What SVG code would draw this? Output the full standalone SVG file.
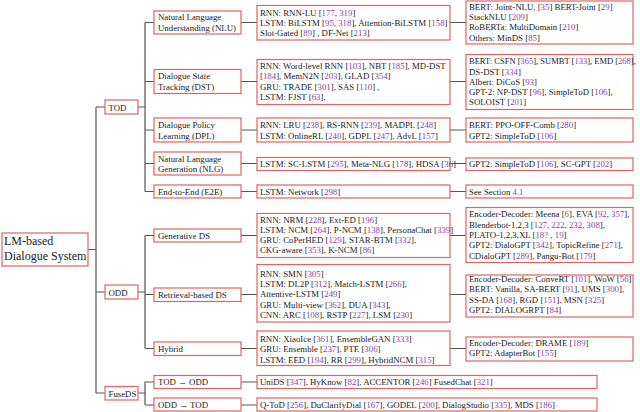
<svg xmlns="http://www.w3.org/2000/svg" width="640" height="412" viewBox="0 0 640 412">
<style>
.b{fill:#fff;stroke:#e06464;stroke-width:1.2}
.t{font-family:"Liberation Serif","DejaVu Serif",serif;font-size:8.8px;fill:#222}
.big{font-size:12px}
.sm{font-size:8.5px}
.c{fill:#8e3f9e}
.ln{stroke:#555;stroke-width:1.2;fill:none}
</style>
<rect width="640" height="412" fill="#fff"/>
<g id="connectors">
<path class="ln" d="M88,249.5H96M96,107V393M96,107H105M96,292H105M96,393H105"/>
<path class="ln" d="M138,107H145M145,22.5V191.5M145,22.5H154M145,81.5H154M145,130H154M145,163.5H154M145,191.5H154"/>
<path class="ln" d="M138,292H145M145,235.5V348.5M145,235.5H154M145,294.5H154M145,348.5H154"/>
<path class="ln" d="M138,393H145M145,382V405M145,382H154M145,405H154"/>
<path class="ln" d="M241,22.5H257M450,22.5H466M241,81.5H257M450,81.5H466M241,130H257M450,130H466M241,163.5H257M450,163.5H466M241,191.5H257M450,191.5H466M241,235.5H257M450,235.5H466M241,294.5H257M450,294.5H466M241,348.5H257M450,348.5H466M241,382H257M241,405H257"/>
</g>
<g id="root"><rect class="b" x="2" y="233" width="86" height="33"/><text class="t big" x="4" y="245">LM-based</text><text class="t big" x="4" y="260">Dialogue System</text></g>
<g id="tod"><rect class="b" x="105" y="100" width="33" height="14"/><text class="t" x="108.5" y="110.5">TOD</text></g>
<g id="odd"><rect class="b" x="105" y="285" width="33" height="14"/><text class="t" x="108.5" y="295.5">ODD</text></g>
<g id="fuseds"><rect class="b" x="105" y="386.5" width="33" height="13.5"/><text class="t" x="108.5" y="396.5">FuseDS</text></g>

<g id="nlu"><rect class="b" x="154" y="11" width="87" height="23"/><text class="t" x="158" y="20">Natural Language</text><text class="t" x="158" y="30.5">Understanding (NLU)</text></g>
<g id="dst"><rect class="b" x="154" y="69.5" width="87" height="24"/><text class="t" x="158" y="79">Dialogue State</text><text class="t" x="158" y="89.5">Tracking (DST)</text></g>
<g id="dpl"><rect class="b" x="154" y="118" width="87" height="24"/><text class="t" x="158" y="128">Dialogue Policy</text><text class="t" x="158" y="138.5">Learning (DPL)</text></g>
<g id="nlg"><rect class="b" x="154" y="152" width="87" height="23"/><text class="t" x="158" y="161.5">Natural Language</text><text class="t" x="158" y="171.5">Generation (NLG)</text></g>
<g id="e2e"><rect class="b" x="154" y="185" width="87" height="13"/><text class="t" x="158" y="194.8">End-to-End (E2E)</text></g>
<g id="gen"><rect class="b" x="154" y="229" width="87" height="13"/><text class="t" x="158" y="238.5">Generative DS</text></g>
<g id="ret"><rect class="b" x="154" y="288" width="87" height="13.5"/><text class="t" x="158" y="297.8">Retrieval-based DS</text></g>
<g id="hyb"><rect class="b" x="154" y="342" width="87" height="13.5"/><text class="t" x="158" y="351.8">Hybrid</text></g>
<g id="tod2odd"><rect class="b" x="154" y="375.5" width="87" height="13"/><text class="t" x="158" y="385">TOD → ODD</text></g>
<g id="odd2tod"><rect class="b" x="154" y="398" width="87" height="13"/><text class="t" x="158" y="407.8">ODD → TOD</text></g>

<g id="nlu-models"><rect class="b" x="257" y="5.5" width="193" height="34.5"/>
<text class="t" x="260" y="15.5">RNN: RNN-LU [<tspan class="c">177</tspan>, <tspan class="c">319</tspan>]</text>
<text class="t" x="260" y="26">LSTM: BiLSTM [<tspan class="c">95</tspan>, <tspan class="c">318</tspan>], Attention-BiLSTM [<tspan class="c">158</tspan>]</text>
<text class="t" x="260" y="36">Slot-Gated [<tspan class="c">89</tspan>] , DF-Net [<tspan class="c">213</tspan>]</text></g>
<g id="nlu-plm"><rect class="b" x="466" y="1" width="167" height="43"/>
<text class="t" x="469" y="9.5">BERT: Joint-NLU, [<tspan class="c">35</tspan>] BERT-Joint [<tspan class="c">29</tspan>]</text>
<text class="t" x="469" y="20">StackNLU [<tspan class="c">209</tspan>]</text>
<text class="t" x="469" y="30">RoBERTa: MultiDomain [<tspan class="c">210</tspan>]</text>
<text class="t" x="469" y="40.5">Others: MinDS [<tspan class="c">85</tspan>]</text></g>

<g id="dst-models"><rect class="b" x="257" y="59.5" width="193" height="45"/>
<text class="t" x="260" y="69">RNN: Word-level RNN [<tspan class="c">103</tspan>], NBT [<tspan class="c">185</tspan>], MD-DST</text>
<text class="t" x="260" y="79.3">[<tspan class="c">184</tspan>], MemN2N [<tspan class="c">203</tspan>], GLAD [<tspan class="c">354</tspan>]</text>
<text class="t" x="260" y="89.5">GRU: TRADE [<tspan class="c">301</tspan>], SAS [<tspan class="c">110</tspan>] ,</text>
<text class="t" x="260" y="100">LSTM: FJST [<tspan class="c">63</tspan>],</text></g>
<g id="dst-plm"><rect class="b" x="466" y="54.5" width="167" height="55"/>
<text class="t sm" x="469" y="64">BERT: CSFN [<tspan class="c">365</tspan>], SUMBT [<tspan class="c">133</tspan>], EMD [<tspan class="c">268</tspan>],</text>
<text class="t" x="469" y="74.5">DS-DST [<tspan class="c">334</tspan>]</text>
<text class="t" x="469" y="84.5">Albert: DiCoS [<tspan class="c">93</tspan>]</text>
<text class="t" x="469" y="94.5">GPT-2: NP-DST [<tspan class="c">96</tspan>], SimpleToD [<tspan class="c">106</tspan>],</text>
<text class="t" x="469" y="104.5">SOLOIST [<tspan class="c">201</tspan>]</text></g>

<g id="dpl-models"><rect class="b" x="257" y="118" width="193" height="24"/>
<text class="t" x="260" y="128">RNN: LRU [<tspan class="c">238</tspan>], RS-RNN [<tspan class="c">239</tspan>], MADPL [<tspan class="c">248</tspan>]</text>
<text class="t" x="260" y="138.5">LSTM: OnlineRL [<tspan class="c">240</tspan>], GDPL [<tspan class="c">247</tspan>], AdvL [<tspan class="c">157</tspan>]</text></g>
<g id="dpl-plm"><rect class="b" x="466" y="118" width="167" height="24"/>
<text class="t" x="469" y="128.3">BERT: PPO-OFF-Comb [<tspan class="c">280</tspan>]</text>
<text class="t" x="469" y="138.5">GPT2: SimpleToD [<tspan class="c">106</tspan>]</text></g>

<g id="nlg-models"><rect class="b" x="257" y="157.5" width="193" height="13"/>
<text class="t" x="260" y="166.8">LSTM: SC-LSTM [<tspan class="c">295</tspan>], Meta-NLG [<tspan class="c">178</tspan>], HDSA [<tspan class="c">36</tspan>]</text></g>
<g id="nlg-plm"><rect class="b" x="466" y="158" width="167" height="12.5"/>
<text class="t" x="469" y="166.8">GPT2: SimpleToD [<tspan class="c">106</tspan>], SC-GPT [<tspan class="c">202</tspan>]</text></g>

<g id="e2e-models"><rect class="b" x="257" y="185" width="193" height="13"/>
<text class="t" x="260" y="194.8">LSTM: Network [<tspan class="c">298</tspan>]</text></g>
<g id="e2e-plm"><rect class="b" x="466" y="185" width="167" height="13"/>
<text class="t" x="469" y="194.8">See Section <tspan class="c">4.1</tspan></text></g>

<g id="gen-models"><rect class="b" x="257" y="213.5" width="193" height="44"/>
<text class="t" x="260" y="222.5">RNN: NRM [<tspan class="c">228</tspan>], Ext-ED [<tspan class="c">196</tspan>]</text>
<text class="t" x="260" y="232.8">LSTM: NCM [<tspan class="c">264</tspan>], P-NCM [<tspan class="c">138</tspan>], PersonaChat [<tspan class="c">339</tspan>]</text>
<text class="t" x="260" y="243">GRU: CoPerHED [<tspan class="c">129</tspan>], STAR-BTM [<tspan class="c">332</tspan>],</text>
<text class="t" x="260" y="253.3">CKG-aware [<tspan class="c">353</tspan>], K-NCM [<tspan class="c">86</tspan>]</text></g>
<g id="gen-plm"><rect class="b" x="466" y="207.5" width="167" height="55"/>
<text class="t" x="469" y="217">Encoder-Decoder: Meena [<tspan class="c">6</tspan>], EVA [<tspan class="c">92</tspan>, <tspan class="c">357</tspan>],</text>
<text class="t" x="469" y="227.5">Blenderbot-1,2,3 [<tspan class="c">127</tspan>, <tspan class="c">222</tspan>, <tspan class="c">232</tspan>, <tspan class="c">308</tspan>],</text>
<text class="t" x="469" y="238">PLATO-1,2,3,XL [<tspan class="c">18?</tspan> , <tspan class="c">19</tspan>]</text>
<text class="t" x="469" y="248.3">GPT2: DialoGPT [<tspan class="c">342</tspan>], TopicRefine [<tspan class="c">271</tspan>],</text>
<text class="t" x="469" y="259">CDialoGPT [<tspan class="c">289</tspan>], Pangu-Bot [<tspan class="c">179</tspan>]</text></g>

<g id="ret-models"><rect class="b" x="257" y="264.5" width="193" height="57.5"/>
<text class="t" x="260" y="276.5">RNN: SMN [<tspan class="c">305</tspan>]</text>
<text class="t" x="260" y="287">LSTM: DL2P [<tspan class="c">312</tspan>], Match-LSTM [<tspan class="c">266</tspan>],</text>
<text class="t" x="260" y="297.3">Attentive-LSTM [<tspan class="c">249</tspan>]</text>
<text class="t" x="260" y="307.6">GRU: Multi-view [<tspan class="c">362</tspan>], DUA [<tspan class="c">343</tspan>],</text>
<text class="t" x="260" y="318">CNN: ARC [<tspan class="c">108</tspan>], RSTP [<tspan class="c">227</tspan>], LSM [<tspan class="c">230</tspan>]</text></g>
<g id="ret-plm"><rect class="b" x="466" y="275" width="167" height="42"/>
<text class="t" x="469" y="282">Encoder-Decoder: ConveRT [<tspan class="c">101</tspan>], WoW [<tspan class="c">56</tspan>]</text>
<text class="t" x="469" y="292.3">BERT: Vanilla, SA-BERT [<tspan class="c">91</tspan>], UMS [<tspan class="c">300</tspan>],</text>
<text class="t" x="469" y="302.6">SS-DA [<tspan class="c">168</tspan>], RGD [<tspan class="c">151</tspan>], MSN [<tspan class="c">325</tspan>]</text>
<text class="t" x="469" y="313">GPT2: DIALOGRPT [<tspan class="c">84</tspan>]</text></g>

<g id="hyb-models"><rect class="b" x="257" y="331" width="193" height="34.5"/>
<text class="t" x="260" y="341.5">RNN: XiaoIce [<tspan class="c">361</tspan>], EnsembleGAN [<tspan class="c">333</tspan>]</text>
<text class="t" x="260" y="352">GRU: Ensemble [<tspan class="c">237</tspan>], PTE [<tspan class="c">306</tspan>]</text>
<text class="t" x="260" y="362.5">LSTM: EED [<tspan class="c">194</tspan>], RR [<tspan class="c">299</tspan>], HybridNCM [<tspan class="c">315</tspan>]</text></g>
<g id="hyb-plm"><rect class="b" x="466" y="337" width="167" height="24"/>
<text class="t" x="469" y="346">Encoder-Decoder: DRAME [<tspan class="c">189</tspan>]</text>
<text class="t" x="469" y="356.3">GPT2: AdapterBot [<tspan class="c">155</tspan>]</text></g>

<g id="tod2odd-models"><rect class="b" x="257" y="375.5" width="340" height="13"/>
<text class="t" x="260" y="385">UniDS [<tspan class="c">347</tspan>], HyKnow [<tspan class="c">82</tspan>], ACCENTOR [<tspan class="c">246</tspan>] FusedChat [<tspan class="c">321</tspan>]</text></g>
<g id="odd2tod-models"><rect class="b" x="257" y="398" width="340" height="13"/>
<text class="t" x="260" y="407.8">Q-ToD [<tspan class="c">256</tspan>], DuClarifyDial [<tspan class="c">167</tspan>], GODEL [<tspan class="c">200</tspan>], DialogStudio [<tspan class="c">335</tspan>], MDS [<tspan class="c">186</tspan>]</text></g>
</svg>
